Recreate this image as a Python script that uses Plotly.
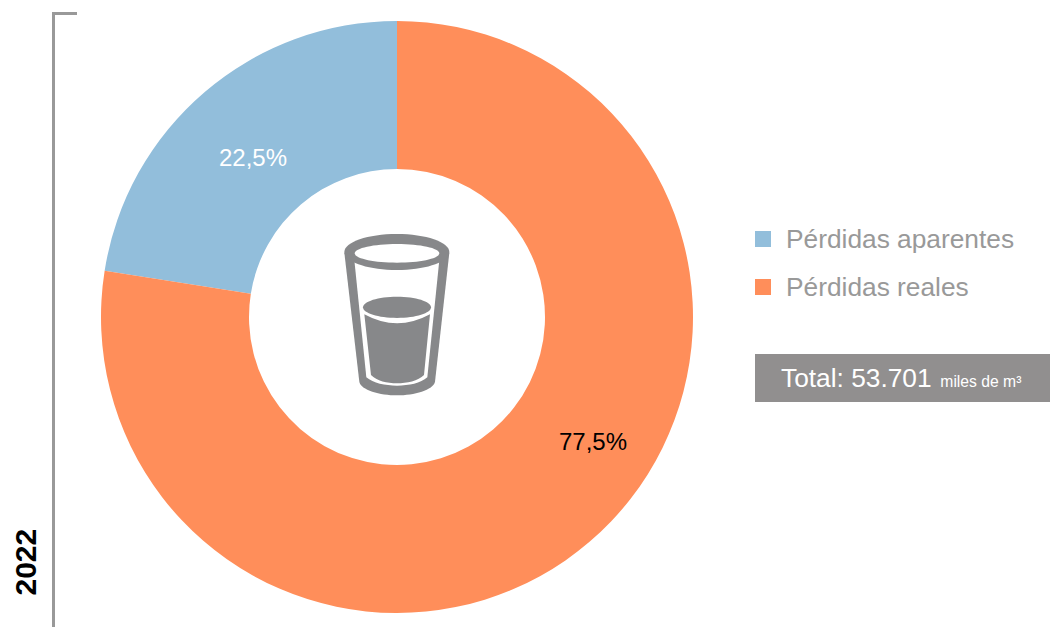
import plotly.graph_objects as go

labels = ["Pérdidas aparentes", "Pérdidas reales"]
values = [22.5, 77.5]
colors = ["#92BEDB", "#FF8E5A"]
value_text_colors = ["#FFFFFF", "#000000"]
year = "2022"
total = "53.701"
unit = "miles de m³"

W, H = 1050, 627
GRAY = "#87888A"


def px(x):
    return x / W


def py(y):
    return 1 - y / H


def zoom_path(cmds):
    """Icon path written in crop pixels (3x crop with origin 320,220)."""
    out = []
    for c in cmds:
        if isinstance(c, str):
            out.append(c)
        else:
            x = px(320 + c[0] / 3)
            y = py(220 + c[1] / 3)
            out.append(f"{x:.5f},{y:.5f}")
    return " ".join(out)


def ellipse(cx, cy, rx, ry):
    k = 0.5523
    return zoom_path([
        "M", (cx - rx, cy),
        "C", (cx - rx, cy - k * ry), (cx - k * rx, cy - ry), (cx, cy - ry),
        "C", (cx + k * rx, cy - ry), (cx + rx, cy - k * ry), (cx + rx, cy),
        "C", (cx + rx, cy + k * ry), (cx + k * rx, cy + ry), (cx, cy + ry),
        "C", (cx - k * rx, cy + ry), (cx - rx, cy + k * ry), (cx - rx, cy),
        "Z",
    ])


icon = [
    # outer silhouette
    (zoom_path(["M", (73, 98), "L", (118, 485), "C", (122, 510), (180, 526), (231, 526),
                "C", (282, 526), (340, 510), (345, 485), "L", (388, 98), "Z"]), GRAY),
    # clear glass interior
    (zoom_path(["M", (102, 110), "L", (139, 472), "C", (160, 490), (195, 497), (231, 497),
                "C", (267, 497), (302, 490), (322, 472), "L", (359, 110), "Z"]), "#FFFFFF"),
    # rim
    (ellipse(230.5, 96, 157.5, 54), GRAY),
    (ellipse(231, 100, 127, 28), "#FFFFFF"),
    # water body
    (zoom_path(["M", (133, 283), "Q", (231, 337), (330, 283), "L", (312, 465),
                "C", (295, 483), (260, 490), (231, 490),
                "C", (202, 490), (170, 483), (153, 465), "Z"]), GRAY),
    # water surface
    (ellipse(231, 262, 102, 32), GRAY),
]

shapes = [dict(type="path", xref="paper", yref="paper", path=p, fillcolor=c,
               line=dict(width=0), layer="above") for p, c in icon]

# bracket
shapes.append(dict(type="path", xref="paper", yref="paper",
                   path=f"M {px(77)},{py(13.5)} L {px(53.5)},{py(13.5)} L {px(53.5)},{py(627)}",
                   line=dict(color="#999999", width=3)))

# total box
shapes.append(dict(type="rect", xref="paper", yref="paper", x0=px(755), x1=px(1050),
                   y0=py(402), y1=py(354), fillcolor="#918F8F", line=dict(width=0)))

# legend swatches
legend_y = [239, 287]
for ly, c in zip(legend_y, colors):
    shapes.append(dict(type="rect", xref="paper", yref="paper", x0=px(755), x1=px(771),
                       y0=py(ly + 8), y1=py(ly - 8), fillcolor=c, line=dict(width=0)))

FONT = "Liberation Sans, Arial, sans-serif"
annotations = []
for lab, ly in zip(labels, legend_y):
    annotations.append(dict(xref="paper", yref="paper", x=px(784), y=py(ly + 0.5), text=lab,
                            showarrow=False, xanchor="left", yanchor="middle",
                            font=dict(family=FONT, size=26.3, color="#999999")))

label_pos = [(252.8, 157.5), (592.8, 441)]
for v, (x, y), c in zip(values, label_pos, value_text_colors):
    annotations.append(dict(xref="paper", yref="paper", x=px(x), y=py(y),
                            xanchor="center", yanchor="middle",
                            text=f"{v:.1f}%".replace(".", ","), showarrow=False,
                            font=dict(family=FONT, size=24, color=c)))

annotations.append(dict(xref="paper", yref="paper", x=px(779), y=py(378), xanchor="left",
                        yanchor="middle", showarrow=False,
                        text=f"Total: {total}<span style='font-size:15.7px'>\u00a0\u00a0{unit}</span>",
                        font=dict(family=FONT, size=26.3, color="#FFFFFF")))
annotations.append(dict(xref="paper", yref="paper", x=px(25), y=py(562.5), text=f"<b>{year}</b>",
                        xanchor="center", yanchor="middle",
                        textangle=-90, showarrow=False,
                        font=dict(family=FONT, size=30, color="#000000")))

fig = go.Figure(go.Pie(
    labels=labels, values=values, marker=dict(colors=colors, line=dict(width=0)),
    hole=0.5, sort=False, direction="clockwise", rotation=-values[0] / 100 * 360,
    textinfo="none", showlegend=False,
    domain=dict(x=[px(101), px(693)], y=[py(613), py(21)]),
))
fig.update_layout(width=W, height=H, margin=dict(l=0, r=0, t=0, b=0), autosize=False,
                  paper_bgcolor="white", shapes=shapes, annotations=annotations,
                  font=dict(family=FONT))
fig.write_html("out.html", config=dict(displayModeBar=False),
               post_script="document.body.style.margin='0';document.documentElement.style.overflow='hidden';")
